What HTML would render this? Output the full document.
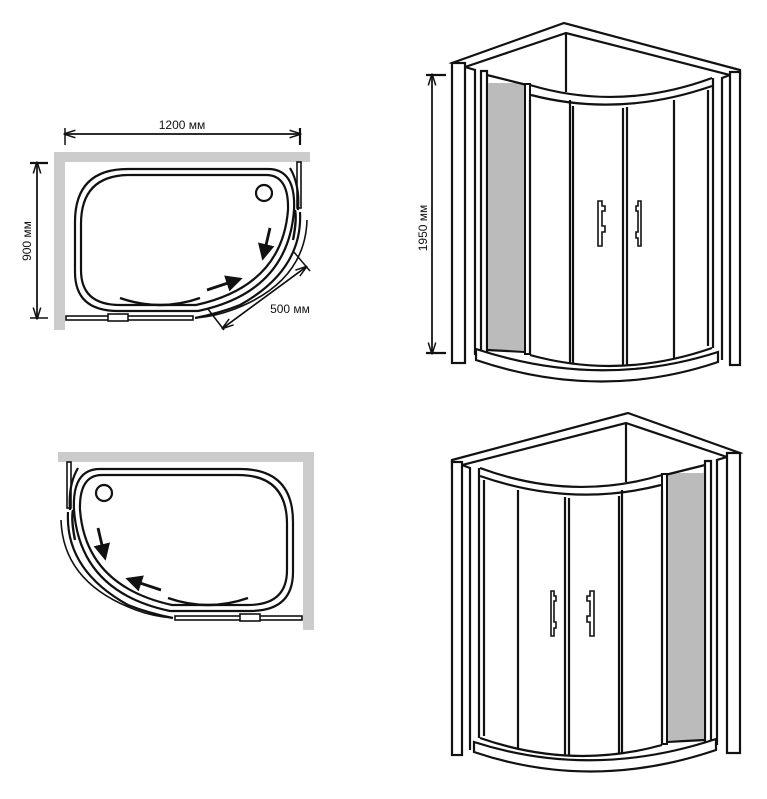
<!DOCTYPE html>
<html><head><meta charset="utf-8"><style>
html,body{margin:0;padding:0;background:#fff}
svg{display:block}
text{font-family:"Liberation Sans",sans-serif;font-size:12px;fill:#111}
</style></head><body>
<svg width="767" height="799" viewBox="0 0 767 799" xmlns="http://www.w3.org/2000/svg">
<defs>
<marker id="ah" markerWidth="6" markerHeight="6" refX="5" refY="3" orient="auto"><path d="M0,0 L6,3 L0,6 Z" fill="#111"/></marker>
<marker id="dm" markerWidth="8" markerHeight="6" refX="7" refY="3" orient="auto"><path d="M0,0.5 L8,3 L0,5.5" fill="none" stroke="#111" stroke-width="1"/></marker>
<g id="plan" fill="none" stroke="#111" stroke-width="2.2">
  <rect x="54" y="152" width="256" height="10" fill="#ccc" stroke="none"/>
  <rect x="54" y="152" width="11" height="178" fill="#ccc" stroke="none"/>
  <path d="M75 222 Q75 169 128 169 L268 169 Q296 169 294 210 Q288 292 198 311 L118 311 Q75 311 75 272 Z"/>
  <path d="M81 224 Q81 175 130 175 L266 175 Q289 175 288 210 Q282 286 196 305 L120 305 Q81 305 81 270 Z"/>
  <circle cx="264" cy="193" r="8"/>
  <path d="M120 298 Q160 312 200 298" stroke-width="2.4"/>
  <path d="M290 168 Q300 185 298 210"/>
  <path d="M300 212 Q303 270 240 305 Q220 313 195 318"/>
  <path d="M307 220 Q305 283 232 310 Q216 316 196 318" stroke-width="1.6"/>
  <path d="M293 240 Q297 220 295 210" stroke-width="2.4"/>
  <rect x="297" y="162" width="4" height="46" stroke-width="1.6"/>
  <rect x="66" y="316" width="127" height="4" stroke-width="1.6"/>
  <rect x="108" y="314" width="20" height="7" fill="#fff" stroke-width="1.6"/>
  <line x1="270" y1="228" x2="263" y2="258" stroke-width="2.8" marker-end="url(#ah)"/>
  <line x1="207" y1="290" x2="240" y2="279" stroke-width="2.8" marker-end="url(#ah)"/>
</g>
<g id="cab" fill="none" stroke="#111" stroke-width="2.2">
  <path d="M452 63 L564 23 L740 70 L740 78 L730 75 L566 33 L465 67 Z" fill="#fff"/>
  <line x1="566" y1="33" x2="566" y2="92"/>
  <rect x="452" y="63" width="13" height="300" fill="#fff"/>
  <path d="M465 67 L475 70 L475 355"/>
  <rect x="730" y="72" width="10" height="293" fill="#fff"/>
  <path d="M730 75 L722 78 L722 360"/>
  <rect x="481" y="71" width="6" height="290"/>
  <rect x="488" y="83" width="37" height="267" fill="#bbb" stroke="none"/>
  <path d="M487 75 L527 85"/>
  <line x1="487" y1="350" x2="527" y2="352"/>
  <rect x="525" y="84" width="5" height="270" fill="#fff" stroke-width="2"/>
  <path d="M530 85 Q620 112 712 78"/>
  <path d="M531 95 Q620 118 712 86"/>
  <line x1="530" y1="100" x2="530" y2="355"/>
  <path d="M530 355 Q620 380 712 348"/>
  <line x1="570" y1="100" x2="570" y2="363"/>
  <line x1="573" y1="106" x2="573" y2="364"/>
  <line x1="623" y1="108" x2="623" y2="365"/>
  <line x1="627" y1="107" x2="627" y2="365"/>
  <line x1="674" y1="100" x2="674" y2="358"/>
  <line x1="708" y1="90" x2="708" y2="346"/>
  <line x1="713" y1="78" x2="713" y2="348"/>
  <path d="M476 349 L476 360 Q600 402 718 362 L718 352 Q600 390 476 349 Z" fill="#fff"/>
  <path d="M598 201 L602 201 L602 206 L605 206 L605 211 L602 211 L602 226 L605 226 L605 232 L602 232 L602 246 L598 246 Z" fill="#fff" stroke-width="1.6"/>
  <path d="M641 201 L638 201 L638 206 L636 206 L636 211 L638 211 L638 232 L636 232 L636 238 L638 238 L638 246 L641 246 Z" fill="#fff" stroke-width="1.6"/>
</g>
</defs>

<use href="#plan"/>
<use href="#plan" transform="translate(368,300) scale(-1,1)"/>
<use href="#cab"/>
<use href="#cab" transform="translate(1192,390) scale(-1,1)"/>

<g stroke="#111" stroke-width="1.5" fill="none">
  <line x1="65" y1="134" x2="300" y2="134" marker-end="url(#dm)" />
  <line x1="300" y1="134" x2="65" y2="134" marker-end="url(#dm)" />
  <line x1="65" y1="128" x2="65" y2="145"/>
  <line x1="300" y1="128" x2="300" y2="145" stroke-width="2.2"/>
  <line x1="37" y1="163" x2="37" y2="318" marker-end="url(#dm)"/>
  <line x1="37" y1="318" x2="37" y2="163" marker-end="url(#dm)"/>
  <line x1="30" y1="163" x2="48" y2="163" stroke-width="2.2"/>
  <line x1="30" y1="318" x2="48" y2="318"/>
  <line x1="293" y1="251" x2="310" y2="271"/>
  <line x1="208" y1="309" x2="224" y2="330"/>
  <line x1="306" y1="267" x2="223" y2="328" marker-end="url(#dm)"/>
  <line x1="223" y1="328" x2="306" y2="267" marker-end="url(#dm)"/>
  <line x1="432" y1="75" x2="432" y2="353" marker-end="url(#dm)"/>
  <line x1="432" y1="353" x2="432" y2="75" marker-end="url(#dm)"/>
  <line x1="426" y1="75" x2="446" y2="75" stroke-width="2.2"/>
  <line x1="426" y1="353" x2="446" y2="353" stroke-width="2.2"/>
</g>
<text x="182" y="129" text-anchor="middle">1200 мм</text>
<text x="290" y="313" text-anchor="middle">500 мм</text>
<text transform="translate(31,241) rotate(-90)" text-anchor="middle">900 мм</text>
<text transform="translate(427,228) rotate(-90)" text-anchor="middle">1950 мм</text>
</svg>
</body></html>
